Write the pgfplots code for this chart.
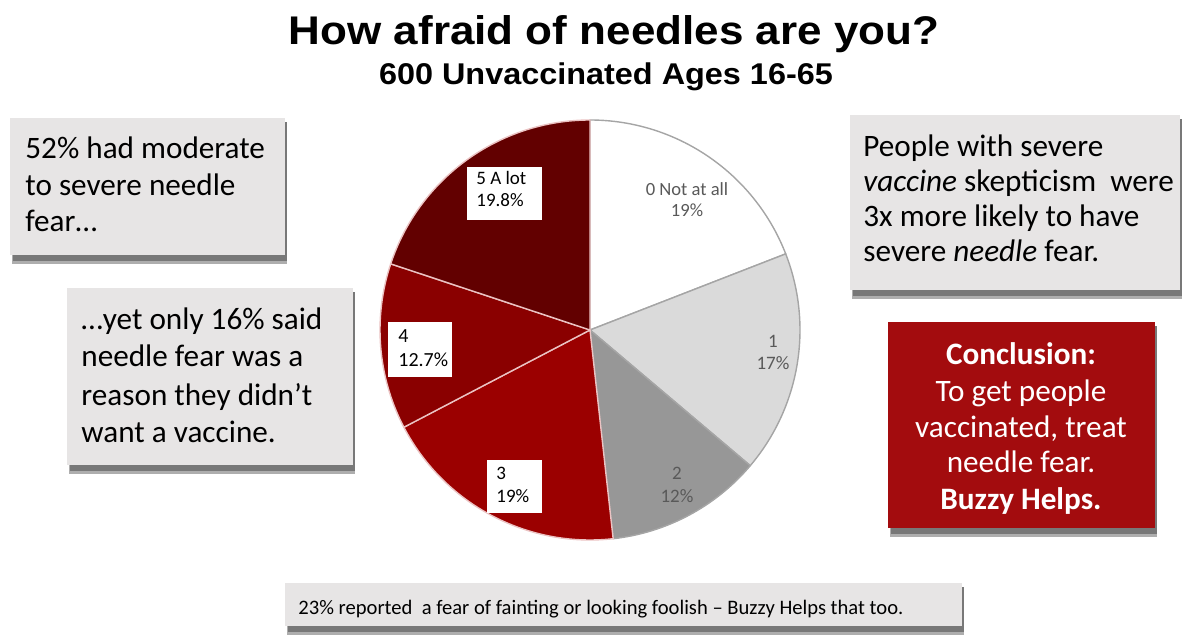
\documentclass[border=0pt]{standalone}
\usepackage{pgfplots}
\usepackage{pgfplotstable}
\pgfplotsset{compat=1.18}
\usepackage{fontspec}
\setmainfont{Carlito}
\newfontfamily\arial{Liberation Sans}

\definecolor{boxgray}{RGB}{231,229,229}
\definecolor{shadowgray}{RGB}{120,120,120}
\definecolor{concl}{RGB}{163,12,14}
\definecolor{sliceA}{RGB}{255,255,255}
\definecolor{sliceB}{RGB}{218,218,218}
\definecolor{sliceC}{RGB}{151,151,151}
\definecolor{sliceD}{RGB}{155,0,0}
\definecolor{sliceE}{RGB}{138,0,0}
\definecolor{sliceF}{RGB}{98,0,0}
\definecolor{edgegray}{RGB}{165,165,165}
\definecolor{edgepink}{RGB}{235,195,195}
\definecolor{labgray}{RGB}{89,89,89}

\pgfplotstableread{
cat value
0 19
1 17
2 12
3 19
4 12.7
5 19.8
}\piedata

% total and cumulative angles (clockwise from 12 o'clock)
\xdef\piesum{0}
\foreach \i in {0,...,5}{%
  \pgfplotstablegetelem{\i}{value}\of\piedata
  \pgfmathsetmacro\tmp{\piesum+\pgfplotsretval}%
  \xdef\piesum{\tmp}}
\pgfmathsetmacro\degper{360/\piesum}
\xdef\degper{\degper}
\xdef\cum{0}
\foreach \i in {0,...,5}{%
  \pgfplotstablegetelem{\i}{value}\of\piedata
  \pgfmathsetmacro\a{90-\cum*\degper}%
  \pgfmathsetmacro\newcum{\cum+\pgfplotsretval}%
  \pgfmathsetmacro\b{90-\newcum*\degper}%
  \expandafter\xdef\csname angS\i\endcsname{\a}%
  \expandafter\xdef\csname angE\i\endcsname{\b}%
  \xdef\cum{\newcum}}

\newcommand\slice[3]{%
  \filldraw[fill=#2,draw=#3,line width=0.7bp,line join=round]
   (axis cs:590,-330) -- ++(\csname angS#1\endcsname:105bp)
   arc[start angle=\csname angS#1\endcsname,end angle=\csname angE#1\endcsname,radius=105bp] -- cycle;}
\newcommand\txt[4][]{\node[anchor=base west,inner sep=0pt,#1] at (axis cs:#2,-#3) {#4};}
\newcommand\ctxt[4][]{\node[anchor=base,inner sep=0pt,#1] at (axis cs:#2,-#3) {#4};}
% shadowed box: x1,y1,x2,y2 (pixel coordinates, y down), fill colour
\newcommand\shbox[5]{%
  \fill[shadowgray!60] (axis cs:#1+2,-#2-4) rectangle (axis cs:#3+2,-#4-9);
  \fill[shadowgray] (axis cs:#1+3,-#2-4) rectangle (axis cs:#3+2,-#4-6);
  \fill[#5] (axis cs:#1,-#2) rectangle (axis cs:#3,-#4);}
\newcommand\bodyfont{\fontsize{15.6bp}{18bp}\selectfont}

\begin{document}
\begin{tikzpicture}
\begin{axis}[width=591bp,height=318.5bp,scale only axis,
  xmin=0,xmax=1182,ymin=-637,ymax=0,hide axis,clip=false]
\path (axis cs:0,0) rectangle (axis cs:1182,-637);

% title
\ctxt[font=\arial\bfseries\fontsize{20bp}{22bp}\selectfont,xscale=1.1]{614}{45}{How afraid of needles are you?}
\ctxt[font=\arial\bfseries\fontsize{15bp}{17bp}\selectfont,xscale=1.08]{606}{85}{600 Unvaccinated Ages 16-65}

% pie
\slice{0}{sliceA}{edgegray}
\slice{1}{sliceB}{edgegray}
\slice{2}{sliceC}{edgegray}
\slice{3}{sliceD}{edgepink}
\slice{4}{sliceE}{edgepink}
\slice{5}{sliceF}{edgepink}

% slice labels
\ctxt[font=\fontsize{9.3bp}{11bp}\selectfont,text=labgray]{687}{196}{0 Not at all}
\ctxt[font=\fontsize{9.3bp}{11bp}\selectfont,text=labgray]{687}{217}{19\%}
\ctxt[font=\fontsize{9.5bp}{11bp}\selectfont,text=labgray]{773}{348}{1}
\ctxt[font=\fontsize{9.5bp}{11bp}\selectfont,text=labgray]{773}{370}{17\%}
\ctxt[font=\fontsize{9.5bp}{11bp}\selectfont,text=labgray]{677}{480}{2}
\ctxt[font=\fontsize{9.5bp}{11bp}\selectfont,text=labgray]{677}{503}{12\%}
\fill[white] (axis cs:467,-167) rectangle (axis cs:542,-220);
\txt[font=\fontsize{9.5bp}{11bp}\selectfont]{476}{185}{5 A lot}
\txt[font=\fontsize{9.5bp}{11bp}\selectfont]{476}{207}{19.8\%}
\fill[white] (axis cs:388,-322) rectangle (axis cs:452,-377);
\txt[font=\fontsize{10bp}{11bp}\selectfont]{398}{343}{4}
\txt[font=\fontsize{10bp}{11bp}\selectfont]{398}{367}{12.7\%}
\fill[white] (axis cs:487,-460) rectangle (axis cs:542,-513);
\txt[font=\fontsize{9.5bp}{11bp}\selectfont]{496}{480}{3}
\txt[font=\fontsize{9.5bp}{11bp}\selectfont]{496}{503}{19\%}

% left boxes
\shbox{10}{118}{285}{255}{boxgray}
\txt[font=\bodyfont]{25}{159}{52\% had moderate}
\txt[font=\bodyfont]{25}{196}{to severe needle}
\txt[font=\bodyfont]{25}{232}{fear…}

\shbox{67}{288}{353}{465}{boxgray}
\txt[font=\bodyfont]{81}{330}{…yet only 16\% said}
\txt[font=\bodyfont]{81}{367}{needle fear was a}
\txt[font=\bodyfont]{81}{406}{reason they didn’t}
\txt[font=\bodyfont]{81}{443}{want a vaccine.}

% right boxes
\shbox{850}{115}{1180}{290}{boxgray}
\txt[font=\bodyfont]{863}{157}{People with severe}
\txt[font=\bodyfont]{863}{192}{\textit{vaccine} skepticism\ \ were}
\txt[font=\bodyfont]{863}{227}{3x more likely to have}
\txt[font=\bodyfont]{863}{262}{severe \textit{needle} fear.}

\shbox{888}{322}{1155}{528}{concl}
\ctxt[font=\bfseries\bodyfont,text=white]{1021}{365}{Conclusion:}
\ctxt[font=\bodyfont,text=white]{1021}{402}{To get people}
\ctxt[font=\bodyfont,text=white]{1021}{438}{vaccinated, treat}
\ctxt[font=\bodyfont,text=white]{1021}{473}{needle fear.}
\ctxt[font=\bfseries\bodyfont,text=white]{1021}{510}{Buzzy Helps.}

% bottom box
\shbox{285}{583}{962}{626}{boxgray}
\txt[font=\fontsize{10.3bp}{12bp}\selectfont]{298}{614}{23\% reported\ \ a fear of fainting or looking foolish – Buzzy Helps that too.}

\end{axis}
\end{tikzpicture}
\end{document}
